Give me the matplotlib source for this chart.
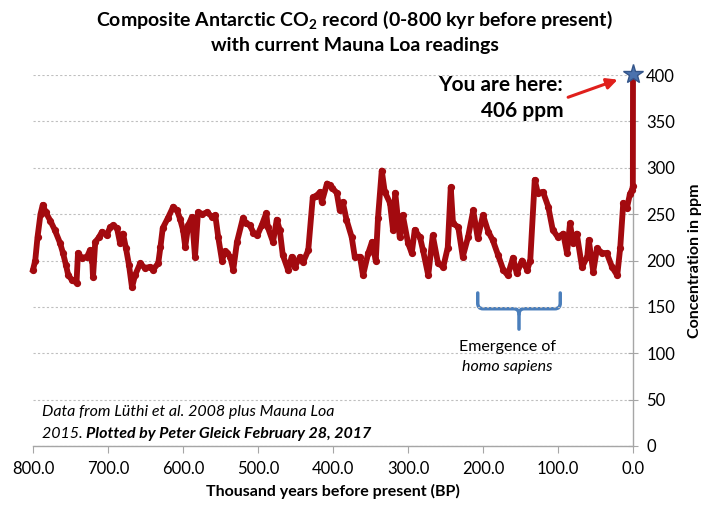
import matplotlib
matplotlib.use('Agg')
import matplotlib.pyplot as plt
from matplotlib.path import Path
from matplotlib.patches import PathPatch

# CO2 record (thousand years BP, ppm)
kyr_bp = [800, 797, 794, 790, 787, 783, 777, 771, 764, 760, 756, 753, 748, 742, 740,
          735, 728, 724, 721, 720, 717, 712, 708, 702, 697, 693, 688, 684, 680, 676,
          672, 668, 664, 657, 651, 644, 640, 633, 630, 627, 620, 613, 608, 604, 600,
          597, 593, 588, 584, 580, 574, 568, 561, 557, 553, 548, 544, 541, 537, 533,
          528, 520, 516, 511, 506, 501, 495, 489, 487, 480, 475, 471, 467, 460, 455,
          451, 444, 440, 433, 427, 422, 417, 415, 408, 404, 401, 395, 391, 387, 382,
          375, 371, 364, 360, 353, 348, 343, 340, 335, 331, 324, 320, 317, 311, 307,
          300, 295, 291, 284, 280, 273, 267, 260, 253, 247, 243, 240, 233, 227, 220,
          213, 207, 200, 193, 187, 180, 173, 167, 160, 155, 148, 141, 137, 131, 127,
          120, 113, 107, 100, 93, 88, 84, 80, 75, 68, 61, 59, 53, 48, 41,
          35, 28, 21, 17, 13, 8, 4, 1.3, 0.2, 0.0]
co2_ppm = [190, 200, 225, 250, 260, 252, 243, 233, 219, 208, 195, 184, 179, 176, 208,
           203, 204, 211, 200, 182, 220, 225, 231, 227, 236, 238, 235, 219, 229, 213,
           195, 171, 184, 197, 192, 193, 190, 197, 215, 235, 246, 258, 254, 245, 233,
           215, 238, 247, 204, 252, 250, 252, 247, 249, 225, 200, 210, 208, 204, 190,
           220, 246, 240, 238, 230, 227, 238, 251, 236, 220, 244, 233, 206, 190, 204,
           193, 204, 198, 211, 268, 270, 274, 263, 283, 281, 278, 273, 254, 263, 244,
           225, 204, 204, 184, 208, 220, 200, 246, 297, 274, 262, 233, 273, 225, 249,
           219, 208, 233, 225, 211, 184, 227, 197, 193, 214, 279, 240, 236, 204, 225,
           254, 224, 249, 231, 222, 206, 190, 184, 203, 186, 200, 190, 200, 287, 273,
           274, 258, 233, 225, 229, 208, 240, 219, 229, 193, 204, 222, 188, 213, 208,
           208, 193, 184, 214, 262, 257, 272, 276, 280, 401]

x_ticks = [800, 700, 600, 500, 400, 300, 200, 100, 0]
y_ticks = [0, 50, 100, 150, 200, 250, 300, 350, 400]

plt.rcParams['font.family'] = ['Lato', 'DejaVu Sans']
plt.rcParams['mathtext.fontset'] = 'custom'
plt.rcParams['mathtext.rm'] = 'Lato'
plt.rcParams['mathtext.bf'] = 'Lato:bold'

fig = plt.figure(figsize=(7.02, 5.14), dpi=100)
ax = fig.add_axes([33/702, 68/514, 600/702, 371/514])

ax.plot(kyr_bp, co2_ppm, color='#a30a0f', lw=4.2, marker='o', ms=4.2,
        solid_joinstyle='round', clip_on=False, zorder=3)
ax.plot(kyr_bp[-1], co2_ppm[-1], marker='*', ms=15, color='#4a72ae',
        mec='#34558a', clip_on=False, zorder=4)

ax.set_xlim(800, 0)
ax.set_ylim(0, 400)
ax.set_xticks(x_ticks)
ax.set_xticklabels(['%.1f' % v for v in x_ticks])
ax.set_yticks(y_ticks)
ax.yaxis.tick_right()
ax.yaxis.set_label_position('right')

for s in ['top', 'left']:
    ax.spines[s].set_visible(False)
for s in ['right', 'bottom']:
    ax.spines[s].set_color('#a6a6a6')
    ax.spines[s].set_linewidth(1)

ax.grid(axis='y', linestyle=(0, (2, 2)), color='#bfbfbf', lw=0.8, zorder=0)
ax.tick_params(axis='x', direction='out', length=5, color='#a6a6a6', labelsize=12, pad=6)
ax.tick_params(axis='y', direction='inout', length=7, color='#a6a6a6', labelsize=12, pad=6)

ax.set_xlabel('Thousand years before present (BP)', fontsize=11.5, fontweight='bold', labelpad=5)
ax.set_ylabel('Concentration in ppm', fontsize=11.5, fontweight='bold', labelpad=9)

fig.text(0.505, 1 - 20/514, r'Composite Antarctic CO$_\mathbf{2}$ record (0-800 kyr before present)',
         ha='center', va='center', fontsize=14, fontweight='bold')
fig.text(0.505, 1 - 46/514, 'with current Mauna Loa readings',
         ha='center', va='center', fontsize=14, fontweight='bold')

# "You are here" annotation
ax.text(93, 375, 'You are here:\n406 ppm', ha='right', va='center', fontsize=15,
        fontweight='bold', multialignment='right', linespacing=1.35)
ax.annotate('', xy=(17, 396), xytext=(90, 375),
            arrowprops=dict(arrowstyle='-|>', color='#e0201c', lw=2.2, mutation_scale=16))

# brace for emergence of homo sapiens
x1, x2, xm = 207, 97, 152
ytop, ybar, ytip = 165, 148, 126
verts_l = [(x1, ytop), (x1, ybar + 6), (x1, ybar), (x1 - 7, ybar), (xm + 7, ybar),
           (xm, ybar), (xm, ybar - 6), (xm, ytip)]
verts_r = [(x2, ytop), (x2, ybar + 6), (x2, ybar), (x2 + 7, ybar), (xm - 7, ybar),
           (xm, ybar), (xm, ybar - 6)]
codes_l = [Path.MOVETO, Path.LINETO, Path.CURVE3, Path.CURVE3, Path.LINETO,
           Path.CURVE3, Path.CURVE3, Path.LINETO]
codes_r = codes_l[:-1]
for v, c in [(verts_l, codes_l), (verts_r, codes_r)]:
    ax.add_patch(PathPatch(Path(v, c), fc='none', ec='#4a7ebb', lw=2.5, capstyle='round'))
ax.text(167, 107, 'Emergence of', ha='center', va='center', fontsize=11.5)
ax.text(167, 85, 'homo sapiens', ha='center', va='center', fontsize=11.5, style='italic')

# data credit
t1 = ax.text(788, 37, 'Data from Lüthi et al. 2008 plus Mauna Loa', ha='left', va='center',
             fontsize=11.5, style='italic')
t2 = ax.text(788, 13, '2015. ', ha='left', va='center', fontsize=11.5, style='italic')
ax.annotate('Plotted by Peter Gleick February 28, 2017', xy=(1, 0), xycoords=t2,
            ha='left', va='bottom', fontsize=11.5, style='italic', fontweight='bold')

fig.savefig('out.png', dpi=100)
